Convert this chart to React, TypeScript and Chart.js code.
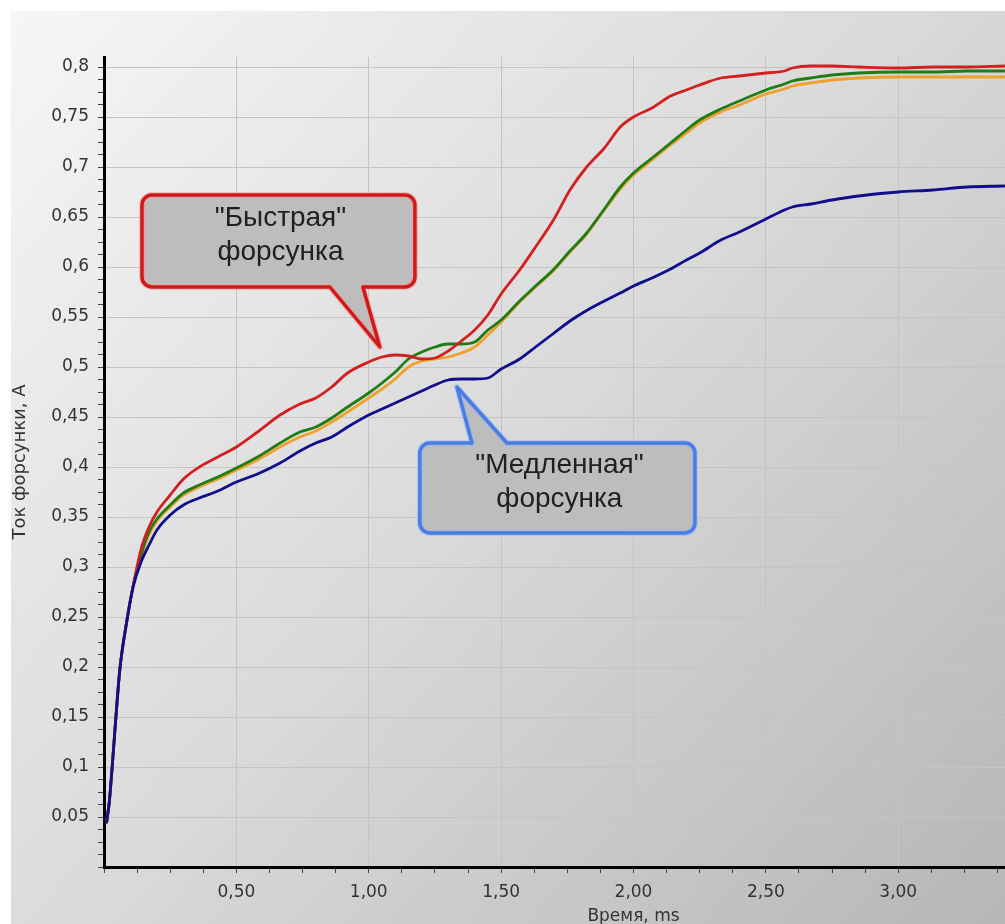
import React, { useEffect, useRef } from 'react';
import { Chart, registerables } from 'chart.js';

Chart.register(...registerables);

// ---- data (time in ms, current in A) ----
const timeMs = [
  0.01, 0.02, 0.03, 0.045, 0.06, 0.085, 0.11, 0.14, 0.17, 0.2, 0.25, 0.3, 0.36, 0.43, 0.5,
  0.58, 0.665, 0.74, 0.8, 0.86, 0.92, 1.0, 1.05, 1.1, 1.15, 1.2, 1.25, 1.3, 1.35, 1.4,
  1.45, 1.5, 1.57, 1.63, 1.7, 1.76, 1.82, 1.89, 1.95, 2.0, 2.07, 2.14, 2.2, 2.25, 2.33,
  2.4, 2.5, 2.57, 2.6, 2.67, 2.75, 2.85, 3.0, 3.13, 3.26, 3.4,
];

const fastInjector = [
  0.045, 0.065, 0.097, 0.15, 0.198, 0.244, 0.281, 0.318, 0.34, 0.355, 0.372, 0.388, 0.4, 0.41, 0.42,
  0.435, 0.452, 0.463, 0.469, 0.48, 0.494, 0.505, 0.51, 0.512, 0.511, 0.508, 0.509, 0.516, 0.526, 0.537,
  0.552, 0.573, 0.597, 0.62, 0.648, 0.677, 0.699, 0.719, 0.74, 0.75, 0.759, 0.771, 0.777, 0.782, 0.789,
  0.791, 0.794, 0.796, 0.799, 0.801, 0.801, 0.8, 0.799, 0.8, 0.8, 0.801,
];

const greenInjector = [
  0.045, 0.065, 0.097, 0.15, 0.198, 0.244, 0.281, 0.312, 0.335, 0.348, 0.362, 0.374, 0.382, 0.39, 0.399,
  0.41, 0.424, 0.435, 0.44, 0.449, 0.46, 0.474, 0.484, 0.495, 0.508, 0.515, 0.52, 0.523, 0.523, 0.525,
  0.537, 0.547, 0.566, 0.581, 0.598, 0.616, 0.633, 0.658, 0.68, 0.694, 0.709, 0.724, 0.737, 0.747, 0.758,
  0.766, 0.777, 0.783, 0.786, 0.789, 0.792, 0.794, 0.795, 0.795, 0.796, 0.796,
];

const orangeInjector = [
  0.045, 0.065, 0.097, 0.15, 0.198, 0.244, 0.281, 0.31, 0.332, 0.346, 0.36, 0.372, 0.38, 0.388, 0.397,
  0.407, 0.42, 0.43, 0.436, 0.445, 0.455, 0.469, 0.478, 0.488, 0.5, 0.506, 0.508, 0.51, 0.514, 0.52,
  0.532, 0.545, 0.565, 0.58, 0.597, 0.615, 0.632, 0.657, 0.678, 0.692, 0.707, 0.722, 0.734, 0.744, 0.755,
  0.762, 0.773, 0.778, 0.781, 0.784, 0.787, 0.789, 0.79, 0.79, 0.79, 0.79,
];

const slowInjector = [
  0.045, 0.065, 0.097, 0.15, 0.198, 0.244, 0.28, 0.305, 0.322, 0.337, 0.352, 0.362, 0.369, 0.376, 0.385,
  0.393, 0.404, 0.416, 0.424, 0.43, 0.44, 0.452, 0.458, 0.464, 0.47, 0.476, 0.482, 0.487, 0.488, 0.488,
  0.489, 0.498, 0.508, 0.52, 0.534, 0.546, 0.556, 0.566, 0.574, 0.581, 0.589, 0.598, 0.607, 0.614, 0.627,
  0.635, 0.648, 0.657, 0.66, 0.663, 0.667, 0.671, 0.675, 0.677, 0.68, 0.681,
];

const xMajorStep = 0.5;
const xMinorStep = 0.125;
const yMajorStep = 0.05;
const yMinorStep = 0.0125;

const xAxisTitle = 'Время, ms';
const yAxisTitle = 'Ток форсунки, А';

const calloutFast = ['"Быстрая"', 'форсунка'];
const calloutSlow = ['"Медленная"', 'форсунка'];

// ---- helpers ----
const isMultiple = (v: number, step: number) => {
  const k = v / step;
  return Math.abs(k - Math.round(k)) < 1e-6;
};
const formatX = (v: number) => v.toFixed(2).replace('.', ',');
const formatY = (v: number) => String(Math.round(v * 100) / 100).replace('.', ',');

const TICK_FONT = { family: '"DejaVu Sans", sans-serif', size: 17 };

type Callout = {
  lines: string[];
  box: [number, number, number, number]; // x0, x1, yTop, yBottom (data units)
  base: [number, number];
  tip: [number, number];
  side: 'top' | 'bottom';
  stroke: string;
  glow: string;
  textDy: [number, number];
};

const callouts: Callout[] = [
  {
    lines: calloutFast,
    box: [0.1435, 1.1745, 0.672, 0.58],
    base: [0.853, 0.978],
    tip: [1.042, 0.52],
    side: 'bottom',
    stroke: '#d01a1a',
    glow: 'rgba(255,140,140,0.45)',
    textDy: [31, 65],
  },
  {
    lines: calloutSlow,
    box: [1.193, 2.232, 0.424, 0.334],
    base: [1.39, 1.522],
    tip: [1.333, 0.48],
    side: 'top',
    stroke: '#4a7de2',
    glow: 'rgba(140,175,255,0.45)',
    textDy: [30, 64],
  },
];

function bubblePath(
  ctx: CanvasRenderingContext2D,
  l: number, t: number, r: number, b: number, rad: number,
  bx1: number, bx2: number, tx: number, ty: number, side: 'top' | 'bottom'
) {
  ctx.beginPath();
  ctx.moveTo(l + rad, t);
  if (side === 'top') {
    ctx.lineTo(bx1, t);
    ctx.lineTo(tx, ty);
    ctx.lineTo(bx2, t);
  }
  ctx.lineTo(r - rad, t);
  ctx.arcTo(r, t, r, t + rad, rad);
  ctx.lineTo(r, b - rad);
  ctx.arcTo(r, b, r - rad, b, rad);
  if (side === 'bottom') {
    ctx.lineTo(bx2, b);
    ctx.lineTo(tx, ty);
    ctx.lineTo(bx1, b);
  }
  ctx.lineTo(l + rad, b);
  ctx.arcTo(l, b, l, b - rad, rad);
  ctx.lineTo(l, t + rad);
  ctx.arcTo(l, t, l + rad, t, rad);
  ctx.closePath();
}

const backgroundPlugin = {
  id: 'panelBackground',
  beforeDraw(chart: any) {
    const { ctx, width, height } = chart;
    ctx.save();
    ctx.fillStyle = '#ffffff';
    ctx.fillRect(0, 0, width, height);
    const g = ctx.createLinearGradient(11, 11, 1005, 924);
    g.addColorStop(0, '#f6f6f6');
    g.addColorStop(0.5, '#d9d9d9');
    g.addColorStop(1, '#b6b6b6');
    ctx.fillStyle = g;
    ctx.fillRect(11, 11, width - 11, height - 11);
    ctx.restore();
  },
};

const calloutPlugin = {
  id: 'callouts',
  afterDatasetsDraw(chart: any) {
    const { ctx } = chart;
    const xs = chart.scales.x;
    const ys = chart.scales.y;
    for (const c of callouts) {
      const l = xs.getPixelForValue(c.box[0]);
      const r = xs.getPixelForValue(c.box[1]);
      const t = ys.getPixelForValue(c.box[2]);
      const b = ys.getPixelForValue(c.box[3]);
      const bx1 = xs.getPixelForValue(c.base[0]);
      const bx2 = xs.getPixelForValue(c.base[1]);
      const tx = xs.getPixelForValue(c.tip[0]);
      const ty = ys.getPixelForValue(c.tip[1]);
      ctx.save();
      ctx.lineJoin = 'round';
      bubblePath(ctx, l, t, r, b, 10, bx1, bx2, tx, ty, c.side);
      ctx.fillStyle = '#bdbdbd';
      ctx.fill();
      ctx.strokeStyle = c.glow;
      ctx.lineWidth = 6;
      ctx.stroke();
      ctx.strokeStyle = c.stroke;
      ctx.lineWidth = 3.5;
      ctx.stroke();
      ctx.fillStyle = '#202020';
      ctx.font = '28px "Liberation Sans", Arial, sans-serif';
      ctx.textAlign = 'center';
      ctx.textBaseline = 'alphabetic';
      const cx = (l + r) / 2 + 2;
      ctx.fillText(c.lines[0], cx, t + c.textDy[0]);
      ctx.fillText(c.lines[1], cx, t + c.textDy[1]);
      ctx.restore();
    }
  },
};

const toPoints = (vals: number[]) => timeMs.map((t, i) => ({ x: t, y: vals[i] }));

export default function App() {
  const canvasRef = useRef<HTMLCanvasElement>(null);

  useEffect(() => {
    const canvas = canvasRef.current;
    if (!canvas) return;
    const chart = new Chart(canvas, {
      type: 'line',
      data: {
        datasets: [
          { label: 'slow', data: toPoints(slowInjector), borderColor: '#0f0f8c' },
          { label: 'fast', data: toPoints(fastInjector), borderColor: '#d21f1f' },
          { label: 'green', data: toPoints(greenInjector), borderColor: '#1f7d14' },
          { label: 'orange', data: toPoints(orangeInjector), borderColor: '#f0a02c' },
        ],
      },
      options: {
        animation: false,
        responsive: false,
        devicePixelRatio: 1,
        layout: { padding: { left: 0, top: 57, right: 17, bottom: 0 } },
        plugins: {
          legend: { display: false },
          tooltip: { enabled: false },
          title: { display: false },
        },
        elements: {
          point: { radius: 0 },
          line: {
            borderWidth: 2.8,
            cubicInterpolationMode: 'monotone',
            borderJoinStyle: 'round',
            borderCapStyle: 'round',
          },
        },
        scales: {
          x: {
            type: 'linear',
            min: 0,
            max: 4,
            afterFit: (s: any) => {
              s.height = 63;
            },
            border: { color: '#000000', width: 3 },
            grid: {
              color: (ctx: any) => {
                const v = ctx.tick ? ctx.tick.value : 0;
                return v > 0 && isMultiple(v, xMajorStep) ? '#c4c4c4' : 'rgba(0,0,0,0)';
              },
              lineWidth: 1,
              tickLength: 6,
              tickColor: '#444444',
            },
            ticks: {
              stepSize: xMinorStep,
              autoSkip: false,
              includeBounds: false,
              maxRotation: 0,
              minRotation: 0,
              padding: 9,
              color: '#333333',
              font: TICK_FONT,
              callback: (value: any) => {
                const v = Number(value);
                if (v <= 0 || v > 3.6 || !isMultiple(v, xMajorStep)) return '';
                return formatX(v);
              },
            },
            title: {
              display: true,
              text: xAxisTitle,
              color: '#333333',
              font: TICK_FONT,
              padding: { top: 0, bottom: 3 },
            },
          },
          y: {
            type: 'linear',
            min: 0,
            max: 0.81,
            afterFit: (s: any) => {
              s.width = 104;
            },
            border: { color: '#000000', width: 3 },
            grid: {
              color: (ctx: any) => {
                const v = ctx.tick ? ctx.tick.value : 0;
                return v > 0 && isMultiple(v, yMajorStep) ? '#c4c4c4' : 'rgba(0,0,0,0)';
              },
              lineWidth: 1,
              tickLength: 6,
              tickColor: '#444444',
            },
            ticks: {
              stepSize: yMinorStep,
              autoSkip: false,
              includeBounds: false,
              maxTicksLimit: 200,
              padding: 9,
              color: '#333333',
              font: TICK_FONT,
              callback: (value: any) => {
                const v = Number(value);
                if (v <= 0 || !isMultiple(v, yMajorStep)) return '';
                return formatY(v);
              },
            },
            title: {
              display: true,
              text: yAxisTitle,
              color: '#333333',
              font: { family: '"DejaVu Sans", sans-serif', size: 18 },
              padding: { top: 10, bottom: 0 },
            },
          },
        },
      },
      plugins: [backgroundPlugin, calloutPlugin],
    } as any);
    return () => chart.destroy();
  }, []);

  return (
    <div
      style={{
        position: 'fixed',
        left: 0,
        top: 0,
        width: 1005,
        height: 924,
        overflow: 'hidden',
        background: '#ffffff',
      }}
    >
      <canvas
        ref={canvasRef}
        width={1180}
        height={930}
        style={{ display: 'block', width: 1180, height: 930 }}
      />
    </div>
  );
}
